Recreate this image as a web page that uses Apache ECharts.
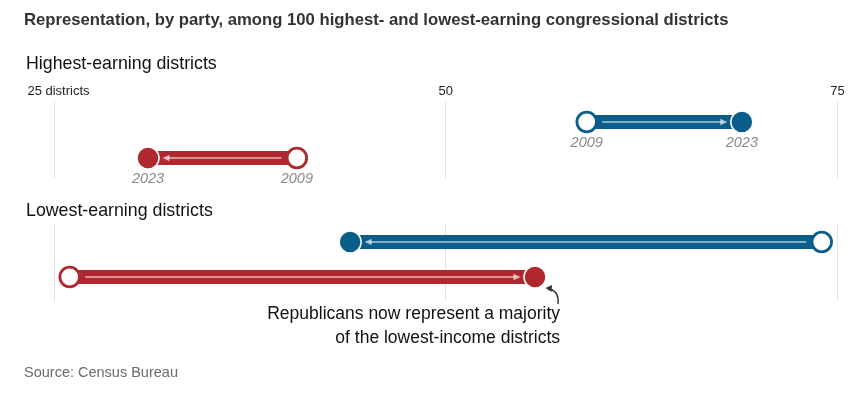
<!DOCTYPE html>
<html><head><meta charset="utf-8">
<script src="https://cdn.jsdelivr.net/npm/echarts@6/dist/echarts.min.js"></script>
<style>html,body{margin:0;padding:0;background:#fff}#c{width:853px;height:393px}</style>
</head><body><div id="c"></div>
<script>
// ---- data ----
const parties = ['Democrats', 'Republicans'];
const years = ['2009', '2023'];
const highest2009 = [59, 40.5];
const highest2023 = [68.9, 31];
const lowest2009 = [74, 26];
const lowest2023 = [43.9, 55.7];
const tickValues = [25, 50, 75];
const tickLabels = ['25 districts', '50', '75'];
const titleText = 'Representation, by party, among 100 highest- and lowest-earning congressional districts';
const sectionLabels = ['Highest-earning districts', 'Lowest-earning districts'];
const noteLines = ['Republicans now represent a majority', 'of the lowest-income districts'];
const sourceText = 'Source: Census Bureau';

// ---- style ----
const COLORS = ['#0b5d8a', '#b0282f'];
const SANS = '"Liberation Sans", Arial, sans-serif';

const chart = echarts.init(document.getElementById('c'), null, { renderer: 'canvas' });

function rowsData(startArr, endArr) {
  return parties.map((p, i) => [startArr[i], endArr[i], i]);
}

function makeRender(showYears) {
  return function (params, api) {
    const row = api.value(2);
    const p0 = api.coord([api.value(0), row]);
    const p1 = api.coord([api.value(1), row]);
    const color = COLORS[row];
    const dir = p1[0] > p0[0] ? 1 : -1;
    const r = 10.5;
    const y = p0[1];
    const a0 = p0[0] + dir * (r + 5);
    const tip = p1[0] - dir * (r + 4);
    const light = 'rgba(255,255,255,0.66)';
    const children = [
      { type: 'line', shape: { x1: p0[0], y1: y, x2: p1[0], y2: y }, style: { stroke: color, lineWidth: 14, lineCap: 'butt' } },
      { type: 'line', shape: { x1: a0, y1: y, x2: tip - dir * 5, y2: y }, style: { stroke: light, lineWidth: 1.6 } },
      { type: 'polygon', shape: { points: [[tip, y], [tip - dir * 7, y - 3.2], [tip - dir * 7, y + 3.2]] }, style: { fill: light } },
      { type: 'circle', shape: { cx: p0[0], cy: y, r: 9.8 }, style: { fill: '#fff', stroke: color, lineWidth: 2.8 } },
      { type: 'circle', shape: { cx: p1[0], cy: y, r: 11 }, style: { fill: color, stroke: '#fff', lineWidth: 1.5 } }
    ];
    if (showYears) {
      [[p0[0], years[0]], [p1[0], years[1]]].forEach(([x, t]) => {
        children.push({ type: 'text', x: x, y: y + 21, style: { text: t, fill: '#8a8a8a', font: 'italic 14.5px ' + SANS, align: 'center', verticalAlign: 'middle' } });
      });
    }
    return { type: 'group', children };
  };
}

const splitStyle = { lineStyle: { color: '#e3e3e3', width: 1 } };
const gridL = 54, gridR = 15.6;

chart.setOption({
  animation: false,
  grid: [
    { left: gridL, right: gridR, top: 101, height: 77 },
    { left: gridL, right: gridR, top: 224, height: 77 }
  ],
  xAxis: [
    { gridIndex: 0, type: 'value', min: 25, max: 75, interval: 25, position: 'top',
      axisLine: { show: false }, axisTick: { show: false }, splitLine: splitStyle,
      axisLabel: { margin: 3, fontSize: 13, color: '#222', fontFamily: SANS,
        formatter: v => v === tickValues[0] ? '{a|' + tickLabels[0] + '}' : tickLabels[tickValues.indexOf(v)],
        rich: { a: { fontSize: 13, color: '#222', fontFamily: SANS, padding: [0, 0, 0, 9] } } } },
    { gridIndex: 1, type: 'value', min: 25, max: 75, interval: 25,
      axisLine: { show: false }, axisTick: { show: false }, splitLine: splitStyle,
      axisLabel: { show: false } }
  ],
  yAxis: [
    { gridIndex: 0, type: 'value', inverse: true, min: -0.583, max: 1.556, show: false, splitLine: { show: false } },
    { gridIndex: 1, type: 'value', inverse: true, min: -0.514, max: 1.686, show: false, splitLine: { show: false } }
  ],
  series: [
    { type: 'custom', xAxisIndex: 0, yAxisIndex: 0, renderItem: makeRender(true),
      data: rowsData(highest2009, highest2023), encode: { x: [0, 1], y: 2 } },
    { type: 'custom', xAxisIndex: 1, yAxisIndex: 1, renderItem: makeRender(false),
      data: rowsData(lowest2009, lowest2023), encode: { x: [0, 1], y: 2 } }
  ],
  graphic: [
    { type: 'text', x: 24, y: 20, style: { text: titleText, font: 'bold 16.7px ' + SANS, fill: '#333', verticalAlign: 'middle' } },
    { type: 'text', x: 26, y: 64, style: { text: sectionLabels[0], font: '17.8px ' + SANS, fill: '#111', verticalAlign: 'middle' } },
    { type: 'text', x: 26, y: 211, style: { text: sectionLabels[1], font: '17.8px ' + SANS, fill: '#111', verticalAlign: 'middle' } },
    { type: 'text', x: 560, y: 314, style: { text: noteLines[0], font: '17.5px ' + SANS, fill: '#111', align: 'right', verticalAlign: 'middle' } },
    { type: 'text', x: 560, y: 338, style: { text: noteLines[1], font: '17.5px ' + SANS, fill: '#111', align: 'right', verticalAlign: 'middle' } },
    { type: 'text', x: 24, y: 373, style: { text: sourceText, font: '14.5px ' + SANS, fill: '#6b6b6b', verticalAlign: 'middle' } },
    { type: 'bezierCurve', shape: { x1: 558, y1: 304, cpx1: 559, cpy1: 296, cpx2: 556, cpy2: 291, x2: 550, y2: 289 }, style: { stroke: '#333', lineWidth: 1.4, fill: null } },
    { type: 'polygon', shape: { points: [[545.5, 288], [552, 285], [551.5, 292]] }, style: { fill: '#333' } }
  ]
});
</script></body></html>
